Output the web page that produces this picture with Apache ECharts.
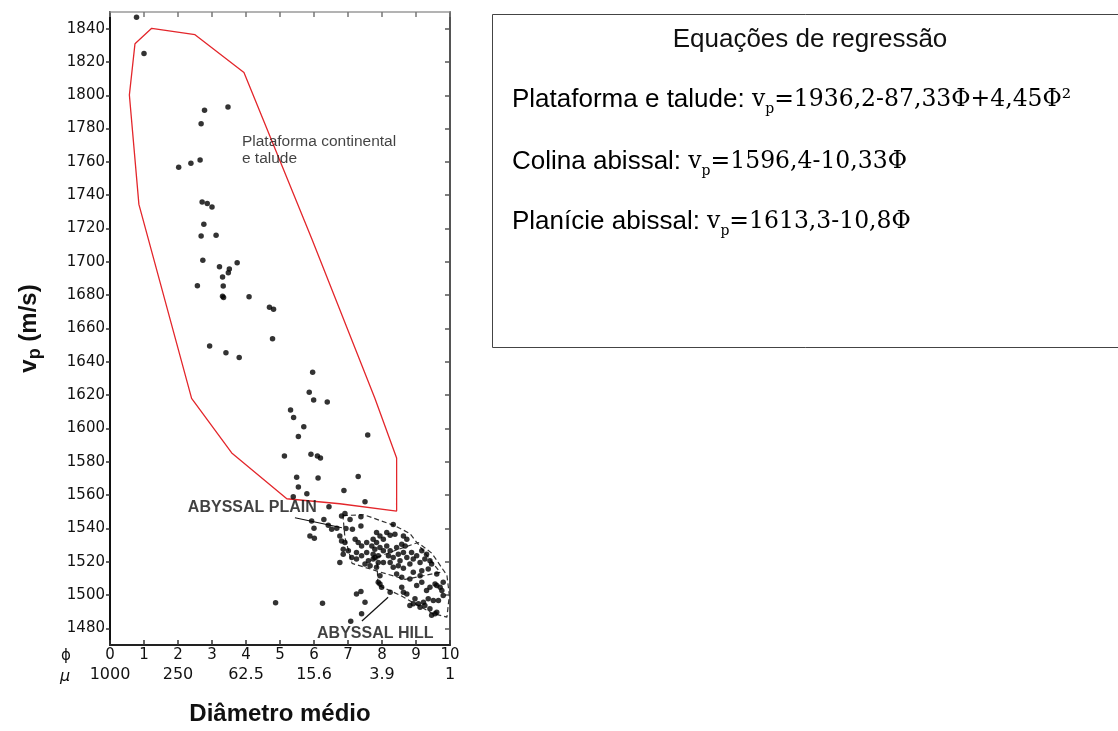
<!DOCTYPE html>
<html>
<head>
<meta charset="utf-8">
<script src="https://cdn.jsdelivr.net/npm/echarts@6/dist/echarts.min.js"></script>
<style>
  html, body { margin: 0; padding: 0; background: #ffffff; }
  #chart { width: 1118px; height: 731px; }
</style>
</head>
<body>
<div id="chart"></div>
<script>
// Sound speed (vp, m/s) against mean grain size (phi units)

const vpTicks = [1480, 1500, 1520, 1540, 1560, 1580, 1600, 1620, 1640, 1660, 1680,
                 1700, 1720, 1740, 1760, 1780, 1800, 1820, 1840];
const muPositions = [0, 2, 4, 6, 8, 10];
const muLabels = ['1000', '250', '62.5', '15.6', '3.9', '1'];

// Continental shelf and slope samples [phi, vp]
const shelfPoints = [
  [0.78, 1846.9], [1.00, 1825.1], [2.78, 1791.0], [3.47, 1793.0], [2.68, 1782.9],
  [2.02, 1756.8], [2.38, 1759.2], [2.65, 1761.2], [2.71, 1735.9], [2.86, 1735.1],
  [3.00, 1732.9], [2.76, 1722.6], [2.68, 1715.6], [3.12, 1716.0], [2.73, 1700.9],
  [3.22, 1697.1], [3.74, 1699.5], [3.51, 1695.7], [3.48, 1693.5], [3.31, 1690.9],
  [2.57, 1685.7], [3.33, 1685.5], [3.31, 1679.4], [3.34, 1678.6], [4.09, 1679.0],
  [4.69, 1672.8], [4.81, 1671.6], [4.78, 1653.9], [2.93, 1649.5], [3.41, 1645.4],
  [3.80, 1642.6], [5.96, 1633.8], [5.86, 1621.8], [5.99, 1617.1], [6.39, 1615.9],
  [5.31, 1611.1], [5.40, 1606.6], [5.70, 1601.0], [5.54, 1595.2], [7.58, 1596.0],
  [5.13, 1583.5], [5.91, 1584.5], [6.10, 1583.5], [6.19, 1582.3], [5.49, 1570.7],
  [6.12, 1570.3], [7.30, 1571.1], [5.54, 1564.8], [6.88, 1562.7], [5.79, 1560.8],
  [5.39, 1559.0]
];

// Abyssal plain and abyssal hill samples [phi, vp]
const abyssalPoints = [
  [7.50, 1556.0], [6.44, 1553.0], [5.93, 1544.5], [6.00, 1540.1], [5.88, 1535.5],
  [6.01, 1534.1], [6.42, 1541.9], [6.52, 1539.5], [6.67, 1540.1], [6.81, 1547.5],
  [6.91, 1549.0], [7.06, 1545.4], [6.94, 1539.9], [7.13, 1539.5], [7.38, 1547.0],
  [7.38, 1541.5], [6.76, 1535.5], [6.81, 1532.5], [6.91, 1531.5], [6.86, 1527.5],
  [6.86, 1524.5], [6.76, 1519.6], [7.21, 1533.5], [7.30, 1531.5], [7.40, 1529.5],
  [7.55, 1531.5], [7.70, 1529.5], [7.74, 1533.5], [7.84, 1537.5], [7.25, 1525.5],
  [7.55, 1525.5], [7.79, 1522.6], [7.89, 1519.6], [7.60, 1520.6], [6.29, 1545.4],
  [7.01, 1526.6], [7.11, 1522.6], [7.74, 1524.5], [7.40, 1523.6], [7.50, 1518.6],
  [7.65, 1517.6], [7.25, 1521.6], [7.94, 1535.5],
  [8.33, 1542.4], [8.14, 1537.5], [8.24, 1535.9], [8.38, 1536.5], [8.63, 1535.5],
  [8.73, 1533.5], [8.04, 1533.5], [7.84, 1531.5], [7.94, 1528.5], [7.79, 1527.5],
  [8.04, 1526.6], [8.14, 1529.5], [8.24, 1526.6], [8.43, 1528.5], [8.58, 1530.5],
  [8.68, 1529.5], [8.63, 1525.5], [8.48, 1524.5], [8.33, 1522.6], [8.19, 1523.6],
  [7.89, 1523.6], [7.74, 1521.6], [8.04, 1519.6], [8.24, 1519.6], [8.53, 1520.6],
  [8.73, 1522.6], [8.87, 1525.5], [9.02, 1523.6], [9.17, 1526.6], [9.31, 1524.5],
  [9.26, 1521.6], [9.41, 1520.6], [9.12, 1519.6], [8.82, 1518.6], [8.92, 1521.6],
  [8.33, 1516.6], [8.48, 1517.6], [8.63, 1516.0], [8.43, 1512.6], [8.58, 1510.6],
  [7.94, 1511.6], [7.89, 1507.6], [7.99, 1504.7], [8.24, 1501.7], [8.58, 1504.7],
  [8.63, 1501.7], [8.82, 1509.6], [8.92, 1513.6], [9.12, 1511.6], [9.02, 1505.7],
  [9.17, 1507.6], [9.31, 1502.7], [9.41, 1504.7], [9.61, 1505.7], [9.76, 1502.7],
  [9.80, 1499.7], [9.66, 1496.7], [9.51, 1496.7], [9.36, 1497.7], [9.22, 1495.7],
  [9.07, 1494.7], [9.12, 1492.7], [9.26, 1493.7], [9.41, 1491.7], [9.56, 1488.7],
  [9.61, 1489.7], [9.46, 1487.8], [8.92, 1494.7], [8.82, 1493.7], [8.97, 1497.7],
  [8.73, 1500.6], [9.17, 1514.6], [9.36, 1515.6], [9.61, 1512.6], [9.80, 1507.6],
  [9.46, 1518.6], [9.71, 1504.7], [9.56, 1506.6], [7.84, 1516.6], [7.94, 1506.6],
  [4.87, 1495.3], [6.25, 1495.1], [7.25, 1500.6], [7.38, 1502.1], [7.50, 1495.7],
  [7.40, 1488.7], [7.08, 1484.2]
];

// Field outlines [phi, vp]
const shelfOutline = [
  [0.735, 1831.0], [1.226, 1840.2], [2.50, 1836.4], [3.94, 1813.7], [5.94, 1713.6],
  [7.79, 1618.1], [8.43, 1582.3], [8.43, 1550.4], [6.76, 1554.8], [5.20, 1557.8],
  [3.58, 1585.3], [2.40, 1618.1], [0.85, 1734.5], [0.57, 1800.2], [0.735, 1831.0]
];
const plainOutline = [
  [6.85, 1547.7], [7.47, 1548.2], [8.38, 1541.6], [8.82, 1536.9], [9.71, 1513.6],
  [8.68, 1509.4], [7.88, 1514.2], [7.12, 1519.0], [6.91, 1534.5], [6.85, 1547.7]
];
const hillOutline = [
  [7.85, 1522.6], [8.38, 1526.7], [9.06, 1531.5], [9.47, 1525.0], [9.91, 1511.8],
  [9.98, 1499.9], [9.91, 1486.7], [9.47, 1489.1], [8.53, 1499.9], [7.88, 1505.9],
  [7.85, 1522.6]
];
const plainPointer = [[5.44, 1546.4], [6.82, 1540.4]];
const hillPointer = [[7.41, 1484.4], [8.18, 1498.7]];

const labelFont = 'DejaVu Sans';
const textDark = '#111111';

function outline(data, color, type, width) {
  return {
    type: 'line', data: data, symbol: 'none', silent: true, z: 3,
    lineStyle: { color: color, width: width, type: type },
    animation: false
  };
}

function fieldLabel(pos, text, style) {
  return {
    type: 'scatter', data: [pos], symbolSize: 0, silent: true, z: 6,
    label: Object.assign({ show: true, position: 'right', distance: 0, formatter: text }, style),
    animation: false
  };
}

const chart = echarts.init(document.getElementById('chart'), null, { renderer: 'canvas' });

const option = {
  backgroundColor: '#ffffff',
  animation: false,
  grid: { left: 110, right: 668, top: 12, bottom: 83 },
  xAxis: [
    {
      type: 'value', min: 0, max: 10, interval: 1, position: 'bottom',
      axisLine: { onZero: false, lineStyle: { color: '#222', width: 2 } },
      axisTick: { inside: true, length: 5, lineStyle: { color: '#333', width: 1.5 } },
      axisLabel: { fontFamily: labelFont, fontSize: 15, color: textDark, margin: 3 },
      splitLine: { show: false },
      name: 'Diâmetro médio', nameLocation: 'middle', nameGap: 57,
      nameTextStyle: { fontFamily: 'Liberation Sans', fontWeight: 'bold', fontSize: 24, color: '#111' }
    },
    {
      type: 'value', min: 0, max: 10, interval: 2, position: 'bottom',
      axisLine: { show: false }, axisTick: { show: false }, splitLine: { show: false },
      axisLabel: {
        fontFamily: labelFont, fontSize: 16, color: textDark, margin: 22,
        formatter: function (v) { const i = muPositions.indexOf(v); return i >= 0 ? muLabels[i] : ''; }
      }
    },
    {
      type: 'value', min: 0, max: 10, interval: 1, position: 'top',
      axisLine: { onZero: false, lineStyle: { color: '#9a9a9a', width: 1.5 } },
      axisTick: { inside: true, length: 5, lineStyle: { color: '#777', width: 1.5 } },
      axisLabel: { show: false }, splitLine: { show: false }
    }
  ],
  yAxis: [
    {
      type: 'value', min: 1470, max: 1850, position: 'left',
      axisLine: { onZero: false, lineStyle: { color: '#111', width: 2 } },
      axisTick: { show: true, length: 4, customValues: vpTicks, lineStyle: { color: '#333', width: 1.5 } },
      axisLabel: {
        customValues: vpTicks, fontFamily: labelFont, fontSize: 15, color: textDark, margin: 5,
        formatter: function (v) { return String(v); }
      },
      splitLine: { show: false },
      name: '{v|v}{s|p}{v| (m/s)}', nameLocation: 'middle', nameGap: 66,
      nameTextStyle: {
        rich: {
          v: { fontFamily: 'Liberation Sans', fontWeight: 'bold', fontSize: 24, color: '#111', lineHeight: 30 },
          s: { fontFamily: 'Liberation Sans', fontWeight: 'bold', fontSize: 18, color: '#111', lineHeight: 16, verticalAlign: 'bottom' }
        }
      }
    },
    {
      type: 'value', min: 1470, max: 1850, position: 'right',
      axisLine: { onZero: false, lineStyle: { color: '#555', width: 2 } },
      axisTick: { show: true, inside: true, length: 5, customValues: vpTicks, lineStyle: { color: '#555', width: 1.5 } },
      axisLabel: { show: false }, splitLine: { show: false }
    }
  ],
  series: [
    outline(shelfOutline, '#e3262b', 'solid', 1.3),
    outline(plainOutline, '#333', [5, 3], 1.2),
    outline(hillOutline, '#333', [5, 3], 1.2),
    outline(plainPointer, '#111', 'solid', 1.2),
    outline(hillPointer, '#111', 'solid', 1.2),
    {
      type: 'scatter', data: shelfPoints, symbol: 'circle', symbolSize: 5.5,
      itemStyle: { color: '#000' }, silent: true, z: 4
    },
    {
      type: 'scatter', data: abyssalPoints, symbol: 'circle', symbolSize: 5.5,
      itemStyle: { color: '#000' }, silent: true, z: 4
    },
    fieldLabel([3.88, 1767.0], 'Plataforma continental\ne talude',
      { fontFamily: 'Liberation Sans', fontSize: 15.5, lineHeight: 17.6, color: '#111' }),
    fieldLabel([2.29, 1552.4], 'ABYSSAL PLAIN',
      { fontFamily: 'Liberation Sans', fontWeight: 'bold', fontSize: 16, color: '#111' }),
    fieldLabel([6.09, 1476.6], 'ABYSSAL HILL',
      { fontFamily: 'Liberation Sans', fontWeight: 'bold', fontSize: 16, color: '#111' })
  ],
  graphic: [
    { type: 'text', left: 61, top: 649, style: { text: 'ϕ', fontFamily: labelFont, fontSize: 15, fill: textDark } },
    { type: 'text', left: 60, top: 669, style: { text: 'μ', fontFamily: labelFont, fontStyle: 'italic', fontSize: 16, fill: textDark } },
    {
      type: 'rect', left: 490, top: 12, silent: true,
      shape: { width: 640, height: 333 },
      style: { fill: 'none', stroke: '#444', lineWidth: 1 }
    },
    {
      type: 'text', x: 810, y: 40, silent: true,
      style: { text: 'Equações de regressão', fontFamily: 'Liberation Sans', fontSize: 26, fill: '#111',
               align: 'center', verticalAlign: 'middle' }
    }
  ]
};

// Regression equations in the text panel
const eqRich = {
  s: { fontFamily: 'Liberation Sans', fontSize: 26, color: '#111', lineHeight: 32 },
  m: { fontFamily: 'DejaVu Serif', fontSize: 23.5, color: '#111', lineHeight: 32 },
  sub: { fontFamily: 'DejaVu Serif', fontSize: 14, color: '#111', lineHeight: 14, verticalAlign: 'bottom' }
};
const equations = [
  ['Plataforma e talude: ', '=1936,2-87,33Φ+4,45Φ²', 100],
  ['Colina abissal: ', '=1596,4-10,33Φ', 162],
  ['Planície abissal: ', '=1613,3-10,8Φ', 222]
];
equations.forEach(function (eq) {
  option.graphic.push({
    type: 'text', x: 512, y: eq[2], silent: true,
    style: {
      text: '{s|' + eq[0] + '}{m|v}{sub|p}{m|' + eq[1] + '}',
      rich: eqRich, verticalAlign: 'middle', align: 'left'
    }
  });
});

chart.setOption(option);
</script>
</body>
</html>
